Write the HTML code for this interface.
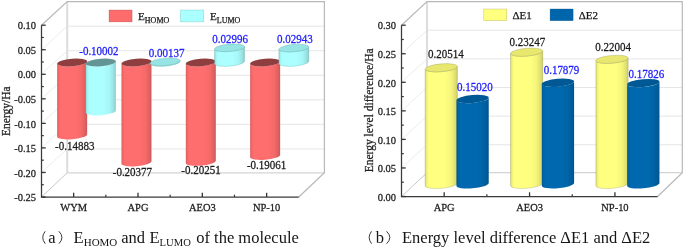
<!DOCTYPE html><html><head><meta charset="utf-8"><style>
html,body{margin:0;padding:0;background:#fff;width:685px;height:248px;overflow:hidden}
svg{display:block;filter:blur(0.4px);font-family:"Liberation Serif", serif}
text{stroke-width:0.25px}
</style></head><body>
<svg width="685" height="248" viewBox="0 0 685 248">
<defs>
<linearGradient id="gr" x1="0" y1="0" x2="1" y2="0"><stop offset="0" stop-color="rgb(214,92,92)"/><stop offset="0.05" stop-color="rgb(242,104,104)"/><stop offset="0.12" stop-color="rgb(255,110,110)"/><stop offset="0.6" stop-color="rgb(255,110,110)"/><stop offset="0.8" stop-color="rgb(245,106,106)"/><stop offset="0.93" stop-color="rgb(224,97,97)"/><stop offset="1" stop-color="rgb(204,88,88)"/></linearGradient>
<linearGradient id="gc" x1="0" y1="0" x2="1" y2="0"><stop offset="0" stop-color="rgb(144,214,214)"/><stop offset="0.05" stop-color="rgb(163,242,242)"/><stop offset="0.12" stop-color="rgb(172,255,255)"/><stop offset="0.6" stop-color="rgb(172,255,255)"/><stop offset="0.8" stop-color="rgb(165,245,245)"/><stop offset="0.93" stop-color="rgb(151,224,224)"/><stop offset="1" stop-color="rgb(138,204,204)"/></linearGradient>
<linearGradient id="gy" x1="0" y1="0" x2="1" y2="0"><stop offset="0" stop-color="rgb(214,214,108)"/><stop offset="0.05" stop-color="rgb(242,242,122)"/><stop offset="0.12" stop-color="rgb(255,255,128)"/><stop offset="0.6" stop-color="rgb(255,255,128)"/><stop offset="0.8" stop-color="rgb(245,245,123)"/><stop offset="0.93" stop-color="rgb(224,224,113)"/><stop offset="1" stop-color="rgb(204,204,102)"/></linearGradient>
<linearGradient id="gb" x1="0" y1="0" x2="1" y2="0"><stop offset="0" stop-color="rgb(0,87,146)"/><stop offset="0.05" stop-color="rgb(0,99,165)"/><stop offset="0.12" stop-color="rgb(0,104,174)"/><stop offset="0.6" stop-color="rgb(0,104,174)"/><stop offset="0.8" stop-color="rgb(0,100,167)"/><stop offset="0.93" stop-color="rgb(0,92,153)"/><stop offset="1" stop-color="rgb(0,83,139)"/></linearGradient>
</defs>
<line x1="67.2" y1="26.16" x2="324.4" y2="26.16" stroke="#e6e6e6" stroke-width="1"/><line x1="41.5" y1="49.74" x2="67.2" y2="26.16" stroke="#ececec" stroke-width="1"/><line x1="67.2" y1="50.71" x2="324.4" y2="50.71" stroke="#e6e6e6" stroke-width="1"/><line x1="41.5" y1="74.29" x2="67.2" y2="50.71" stroke="#ececec" stroke-width="1"/><line x1="67.2" y1="75.27" x2="324.4" y2="75.27" stroke="#e6e6e6" stroke-width="1"/><line x1="41.5" y1="98.83" x2="67.2" y2="75.27" stroke="#ececec" stroke-width="1"/><line x1="67.2" y1="99.83" x2="324.4" y2="99.83" stroke="#e6e6e6" stroke-width="1"/><line x1="41.5" y1="123.37" x2="67.2" y2="99.83" stroke="#ececec" stroke-width="1"/><line x1="67.2" y1="124.39" x2="324.4" y2="124.39" stroke="#e6e6e6" stroke-width="1"/><line x1="41.5" y1="147.91" x2="67.2" y2="124.39" stroke="#ececec" stroke-width="1"/><line x1="67.2" y1="148.94" x2="324.4" y2="148.94" stroke="#e6e6e6" stroke-width="1"/><line x1="41.5" y1="172.46" x2="67.2" y2="148.94" stroke="#ececec" stroke-width="1"/><line x1="67.2" y1="1.6" x2="67.2" y2="172.8" stroke="#dcdcdc" stroke-width="2"/><line x1="67.2" y1="172.8" x2="324.4" y2="172.8" stroke="#d4d4d4" stroke-width="1.2"/><polyline points="41.5,25.2 67.2,1.6 324.4,1.6 324.4,172.8 298.8,197.0" fill="none" stroke="#b8b8b8" stroke-width="1.2"/><line x1="41.5" y1="197.0" x2="67.2" y2="172.8" stroke="#c8c8c8" stroke-width="1"/>
<linearGradient id="gr_721" href="#gr" gradientUnits="userSpaceOnUse" x1="57.17" y1="0" x2="87.16" y2="0"/><path d="M57.17,63.75 L57.17,136.84 A15.05,3.70 -5.0 0 0 87.16,134.38 L87.16,61.28 A15.05,3.70 -5.0 0 1 57.17,63.75 Z" fill="url(#gr_721)"/><ellipse cx="0" cy="0" rx="15.05" ry="3.70" fill="rgb(142,62,62)" transform="translate(72.16,62.51) rotate(-5.0)"/>
<linearGradient id="gc_1008" href="#gc" gradientUnits="userSpaceOnUse" x1="85.87" y1="0" x2="115.86" y2="0"/><path d="M85.87,63.75 L85.87,112.87 A15.05,3.70 -5.0 0 0 115.86,110.41 L115.86,61.28 A15.05,3.70 -5.0 0 1 85.87,63.75 Z" fill="url(#gc_1008)"/><ellipse cx="0" cy="0" rx="15.05" ry="3.70" fill="rgb(98,150,150)" transform="translate(100.86,62.51) rotate(-5.0)"/>
<linearGradient id="gr_1364" href="#gr" gradientUnits="userSpaceOnUse" x1="121.49" y1="0" x2="151.48" y2="0"/><path d="M121.49,63.75 L121.49,163.83 A15.05,3.70 -5.0 0 0 151.48,161.36 L151.48,61.28 A15.05,3.70 -5.0 0 1 121.49,63.75 Z" fill="url(#gr_1364)"/><ellipse cx="0" cy="0" rx="15.05" ry="3.70" fill="rgb(142,62,62)" transform="translate(136.49,62.51) rotate(-5.0)"/>
<linearGradient id="gc_1651" href="#gc" gradientUnits="userSpaceOnUse" x1="150.19" y1="0" x2="180.18" y2="0"/><path d="M150.19,63.07 L150.19,63.75 A15.05,3.70 -5.0 0 0 180.18,61.28 L180.18,60.61 A15.05,3.70 -5.0 0 1 150.19,63.07 Z" fill="url(#gc_1651)" stroke="rgba(60,140,140,0.45)" stroke-width="0.5"/><ellipse cx="0" cy="0" rx="15.05" ry="3.70" fill="rgb(150,228,228)" stroke="rgba(60,140,140,0.45)" stroke-width="0.5" transform="translate(165.19,61.84) rotate(-5.0)"/>
<linearGradient id="gr_2008" href="#gr" gradientUnits="userSpaceOnUse" x1="185.82" y1="0" x2="215.81" y2="0"/><path d="M185.82,63.75 L185.82,163.21 A15.05,3.70 -5.0 0 0 215.81,160.74 L215.81,61.28 A15.05,3.70 -5.0 0 1 185.82,63.75 Z" fill="url(#gr_2008)"/><ellipse cx="0" cy="0" rx="15.05" ry="3.70" fill="rgb(142,62,62)" transform="translate(200.81,62.51) rotate(-5.0)"/>
<linearGradient id="gc_2295" href="#gc" gradientUnits="userSpaceOnUse" x1="214.52" y1="0" x2="244.51" y2="0"/><path d="M214.52,49.03 L214.52,63.75 A15.05,3.70 -5.0 0 0 244.51,61.28 L244.51,46.57 A15.05,3.70 -5.0 0 1 214.52,49.03 Z" fill="url(#gc_2295)" stroke="rgba(60,140,140,0.45)" stroke-width="0.5"/><ellipse cx="0" cy="0" rx="15.05" ry="3.70" fill="rgb(150,228,228)" stroke="rgba(60,140,140,0.45)" stroke-width="0.5" transform="translate(229.51,47.80) rotate(-5.0)"/>
<linearGradient id="gr_2651" href="#gr" gradientUnits="userSpaceOnUse" x1="250.14" y1="0" x2="280.13" y2="0"/><path d="M250.14,63.75 L250.14,157.36 A15.05,3.70 -5.0 0 0 280.13,154.90 L280.13,61.28 A15.05,3.70 -5.0 0 1 250.14,63.75 Z" fill="url(#gr_2651)"/><ellipse cx="0" cy="0" rx="15.05" ry="3.70" fill="rgb(142,62,62)" transform="translate(265.14,62.51) rotate(-5.0)"/>
<linearGradient id="gc_2938" href="#gc" gradientUnits="userSpaceOnUse" x1="278.84" y1="0" x2="308.83" y2="0"/><path d="M278.84,49.29 L278.84,63.75 A15.05,3.70 -5.0 0 0 308.83,61.28 L308.83,46.83 A15.05,3.70 -5.0 0 1 278.84,49.29 Z" fill="url(#gc_2938)" stroke="rgba(60,140,140,0.45)" stroke-width="0.5"/><ellipse cx="0" cy="0" rx="15.05" ry="3.70" fill="rgb(150,228,228)" stroke="rgba(60,140,140,0.45)" stroke-width="0.5" transform="translate(293.84,48.06) rotate(-5.0)"/>
<polyline points="41.5,25.2 41.5,197.0 298.8,197.0" fill="none" stroke="#3a3a3a" stroke-width="1.25"/><line x1="41.5" y1="25.20" x2="45.7" y2="25.20" stroke="#333" stroke-width="1.3"/><line x1="41.5" y1="49.74" x2="45.7" y2="49.74" stroke="#333" stroke-width="1.3"/><line x1="41.5" y1="74.29" x2="45.7" y2="74.29" stroke="#333" stroke-width="1.3"/><line x1="41.5" y1="98.83" x2="45.7" y2="98.83" stroke="#333" stroke-width="1.3"/><line x1="41.5" y1="123.37" x2="45.7" y2="123.37" stroke="#333" stroke-width="1.3"/><line x1="41.5" y1="147.91" x2="45.7" y2="147.91" stroke="#333" stroke-width="1.3"/><line x1="41.5" y1="172.46" x2="45.7" y2="172.46" stroke="#333" stroke-width="1.3"/><line x1="41.5" y1="197.00" x2="45.7" y2="197.00" stroke="#333" stroke-width="1.3"/><line x1="41.5" y1="37.47" x2="43.8" y2="37.47" stroke="#333" stroke-width="1.2"/><line x1="41.5" y1="62.01" x2="43.8" y2="62.01" stroke="#333" stroke-width="1.2"/><line x1="41.5" y1="86.56" x2="43.8" y2="86.56" stroke="#333" stroke-width="1.2"/><line x1="41.5" y1="111.10" x2="43.8" y2="111.10" stroke="#333" stroke-width="1.2"/><line x1="41.5" y1="135.64" x2="43.8" y2="135.64" stroke="#333" stroke-width="1.2"/><line x1="41.5" y1="160.19" x2="43.8" y2="160.19" stroke="#333" stroke-width="1.2"/><line x1="41.5" y1="184.73" x2="43.8" y2="184.73" stroke="#333" stroke-width="1.2"/><line x1="73.66" y1="197.0" x2="73.66" y2="192.8" stroke="#333" stroke-width="1.3"/><line x1="137.99" y1="197.0" x2="137.99" y2="192.8" stroke="#333" stroke-width="1.3"/><line x1="202.31" y1="197.0" x2="202.31" y2="192.8" stroke="#333" stroke-width="1.3"/><line x1="266.64" y1="197.0" x2="266.64" y2="192.8" stroke="#333" stroke-width="1.3"/><line x1="105.83" y1="197.0" x2="105.83" y2="194.7" stroke="#333" stroke-width="1.2"/><line x1="170.15" y1="197.0" x2="170.15" y2="194.7" stroke="#333" stroke-width="1.2"/><line x1="234.48" y1="197.0" x2="234.48" y2="194.7" stroke="#333" stroke-width="1.2"/>
<text transform="translate(36.00,29.40) scale(1,1.07)" font-size="10.5" text-anchor="end" fill="#222" stroke="#222">0.10</text>
<text transform="translate(36.00,53.94) scale(1,1.07)" font-size="10.5" text-anchor="end" fill="#222" stroke="#222">0.05</text>
<text transform="translate(36.00,78.49) scale(1,1.07)" font-size="10.5" text-anchor="end" fill="#222" stroke="#222">0.00</text>
<text transform="translate(36.00,103.03) scale(1,1.07)" font-size="10.5" text-anchor="end" fill="#222" stroke="#222">-0.05</text>
<text transform="translate(36.00,127.57) scale(1,1.07)" font-size="10.5" text-anchor="end" fill="#222" stroke="#222">-0.10</text>
<text transform="translate(36.00,152.11) scale(1,1.07)" font-size="10.5" text-anchor="end" fill="#222" stroke="#222">-0.15</text>
<text transform="translate(36.00,176.66) scale(1,1.07)" font-size="10.5" text-anchor="end" fill="#222" stroke="#222">-0.20</text>
<text transform="translate(36.00,201.20) scale(1,1.07)" font-size="10.5" text-anchor="end" fill="#222" stroke="#222">-0.25</text>
<text transform="translate(10,111.2) rotate(-90) scale(1,1.1)" font-size="11.5" text-anchor="middle" fill="#222" stroke="#222">Energy/Ha</text>
<text transform="translate(73.66,210.60) scale(1,1.07)" font-size="10.5" text-anchor="middle" fill="#222" stroke="#222">WYM</text>
<text transform="translate(137.99,210.60) scale(1,1.07)" font-size="10.5" text-anchor="middle" fill="#222" stroke="#222">APG</text>
<text transform="translate(202.31,210.60) scale(1,1.07)" font-size="10.5" text-anchor="middle" fill="#222" stroke="#222">AEO3</text>
<text transform="translate(266.64,210.60) scale(1,1.07)" font-size="10.5" text-anchor="middle" fill="#222" stroke="#222">NP-10</text>
<text transform="translate(74.70,149.70) scale(1,1.07)" font-size="11" text-anchor="middle" fill="#1a1a1a" stroke="#1a1a1a">-0.14883</text>
<text transform="translate(132.40,176.05) scale(1,1.07)" font-size="11" text-anchor="middle" fill="#1a1a1a" stroke="#1a1a1a">-0.20377</text>
<text transform="translate(201.00,174.35) scale(1,1.07)" font-size="11" text-anchor="middle" fill="#1a1a1a" stroke="#1a1a1a">-0.20251</text>
<text transform="translate(266.55,168.75) scale(1,1.07)" font-size="11" text-anchor="middle" fill="#1a1a1a" stroke="#1a1a1a">-0.19061</text>
<text transform="translate(98.90,54.65) scale(1,1.07)" font-size="11" text-anchor="middle" fill="#2020ff" stroke="#2020ff">-0.10002</text>
<text transform="translate(166.60,57.05) scale(1,1.07)" font-size="11" text-anchor="middle" fill="#2020ff" stroke="#2020ff">0.00137</text>
<text transform="translate(230.15,43.45) scale(1,1.07)" font-size="11" text-anchor="middle" fill="#2020ff" stroke="#2020ff">0.02996</text>
<text transform="translate(294.80,43.30) scale(1,1.07)" font-size="11" text-anchor="middle" fill="#2020ff" stroke="#2020ff">0.02943</text>
<rect x="109" y="10" width="23.1" height="11.9" fill="rgb(253,108,108)" stroke="rgba(150,60,60,0.5)" stroke-width="0.5"/>
<text x="138" y="19.6" font-size="11.2" fill="#1a1a1a" stroke="#1a1a1a">E<tspan font-size="8" dy="3">HOMO</tspan></text>
<rect x="180.3" y="10" width="23.5" height="11.9" fill="rgb(170,255,255)" stroke="rgba(80,160,160,0.5)" stroke-width="0.5"/>
<text x="210" y="19.6" font-size="11.2" fill="#1a1a1a" stroke="#1a1a1a">E<tspan font-size="8" dy="3">LUMO</tspan></text>
<line x1="427.0" y1="30.23" x2="682.3" y2="30.23" stroke="#e6e6e6" stroke-width="1"/><line x1="401.5" y1="53.75" x2="427.0" y2="30.23" stroke="#ececec" stroke-width="1"/><line x1="427.0" y1="58.87" x2="682.3" y2="58.87" stroke="#e6e6e6" stroke-width="1"/><line x1="401.5" y1="82.30" x2="427.0" y2="58.87" stroke="#ececec" stroke-width="1"/><line x1="427.0" y1="87.50" x2="682.3" y2="87.50" stroke="#e6e6e6" stroke-width="1"/><line x1="401.5" y1="110.85" x2="427.0" y2="87.50" stroke="#ececec" stroke-width="1"/><line x1="427.0" y1="116.13" x2="682.3" y2="116.13" stroke="#e6e6e6" stroke-width="1"/><line x1="401.5" y1="139.40" x2="427.0" y2="116.13" stroke="#ececec" stroke-width="1"/><line x1="427.0" y1="144.77" x2="682.3" y2="144.77" stroke="#e6e6e6" stroke-width="1"/><line x1="401.5" y1="167.95" x2="427.0" y2="144.77" stroke="#ececec" stroke-width="1"/><line x1="427.0" y1="1.6" x2="427.0" y2="172.7" stroke="#dcdcdc" stroke-width="2"/><line x1="427.0" y1="172.7" x2="682.3" y2="172.7" stroke="#d4d4d4" stroke-width="1.2"/><polyline points="401.5,25.2 427.0,1.6 682.3,1.6 682.3,172.7 657.6,196.5" fill="none" stroke="#b8b8b8" stroke-width="1.2"/><line x1="401.5" y1="196.5" x2="427.0" y2="172.7" stroke="#c8c8c8" stroke-width="1"/>
<linearGradient id="gy_4412" href="#gy" gradientUnits="userSpaceOnUse" x1="425.14" y1="0" x2="457.43" y2="0"/><path d="M425.14,69.09 L425.14,185.78 A16.20,3.90 -5.0 0 0 457.43,183.12 L457.43,66.43 A16.20,3.90 -5.0 0 1 425.14,69.09 Z" fill="url(#gy_4412)" stroke="rgba(110,110,60,0.45)" stroke-width="0.5"/><ellipse cx="0" cy="0" rx="16.20" ry="3.90" fill="rgb(232,232,112)" stroke="rgba(110,110,60,0.45)" stroke-width="0.5" transform="translate(441.28,67.76) rotate(-5.0)"/>
<linearGradient id="gb_4725" href="#gb" gradientUnits="userSpaceOnUse" x1="456.44" y1="0" x2="488.73" y2="0"/><path d="M456.44,100.34 L456.44,185.78 A16.20,3.90 -5.0 0 0 488.73,183.12 L488.73,97.68 A16.20,3.90 -5.0 0 1 456.44,100.34 Z" fill="url(#gb_4725)"/><ellipse cx="0" cy="0" rx="16.20" ry="3.90" fill="rgb(0,88,148)" transform="translate(472.58,99.01) rotate(-5.0)"/>
<linearGradient id="gy_5266" href="#gy" gradientUnits="userSpaceOnUse" x1="510.51" y1="0" x2="542.79" y2="0"/><path d="M510.51,53.54 L510.51,185.78 A16.20,3.90 -5.0 0 0 542.79,183.12 L542.79,50.88 A16.20,3.90 -5.0 0 1 510.51,53.54 Z" fill="url(#gy_5266)" stroke="rgba(110,110,60,0.45)" stroke-width="0.5"/><ellipse cx="0" cy="0" rx="16.20" ry="3.90" fill="rgb(232,232,112)" stroke="rgba(110,110,60,0.45)" stroke-width="0.5" transform="translate(526.65,52.21) rotate(-5.0)"/>
<linearGradient id="gb_5579" href="#gb" gradientUnits="userSpaceOnUse" x1="541.81" y1="0" x2="574.09" y2="0"/><path d="M541.81,84.08 L541.81,185.78 A16.20,3.90 -5.0 0 0 574.09,183.12 L574.09,81.42 A16.20,3.90 -5.0 0 1 541.81,84.08 Z" fill="url(#gb_5579)"/><ellipse cx="0" cy="0" rx="16.20" ry="3.90" fill="rgb(0,88,148)" transform="translate(557.95,82.75) rotate(-5.0)"/>
<linearGradient id="gy_6120" href="#gy" gradientUnits="userSpaceOnUse" x1="595.87" y1="0" x2="628.16" y2="0"/><path d="M595.87,60.61 L595.87,185.78 A16.20,3.90 -5.0 0 0 628.16,183.12 L628.16,57.95 A16.20,3.90 -5.0 0 1 595.87,60.61 Z" fill="url(#gy_6120)" stroke="rgba(110,110,60,0.45)" stroke-width="0.5"/><ellipse cx="0" cy="0" rx="16.20" ry="3.90" fill="rgb(232,232,112)" stroke="rgba(110,110,60,0.45)" stroke-width="0.5" transform="translate(612.02,59.28) rotate(-5.0)"/>
<linearGradient id="gb_6433" href="#gb" gradientUnits="userSpaceOnUse" x1="627.17" y1="0" x2="659.46" y2="0"/><path d="M627.17,84.38 L627.17,185.78 A16.20,3.90 -5.0 0 0 659.46,183.12 L659.46,81.72 A16.20,3.90 -5.0 0 1 627.17,84.38 Z" fill="url(#gb_6433)"/><ellipse cx="0" cy="0" rx="16.20" ry="3.90" fill="rgb(0,88,148)" transform="translate(643.32,83.05) rotate(-5.0)"/>
<polyline points="401.5,25.2 401.5,196.5 657.6,196.5" fill="none" stroke="#3a3a3a" stroke-width="1.25"/><line x1="401.5" y1="25.20" x2="405.7" y2="25.20" stroke="#333" stroke-width="1.3"/><line x1="401.5" y1="53.75" x2="405.7" y2="53.75" stroke="#333" stroke-width="1.3"/><line x1="401.5" y1="82.30" x2="405.7" y2="82.30" stroke="#333" stroke-width="1.3"/><line x1="401.5" y1="110.85" x2="405.7" y2="110.85" stroke="#333" stroke-width="1.3"/><line x1="401.5" y1="139.40" x2="405.7" y2="139.40" stroke="#333" stroke-width="1.3"/><line x1="401.5" y1="167.95" x2="405.7" y2="167.95" stroke="#333" stroke-width="1.3"/><line x1="401.5" y1="196.50" x2="405.7" y2="196.50" stroke="#333" stroke-width="1.3"/><line x1="401.5" y1="39.47" x2="403.8" y2="39.47" stroke="#333" stroke-width="1.2"/><line x1="401.5" y1="68.02" x2="403.8" y2="68.02" stroke="#333" stroke-width="1.2"/><line x1="401.5" y1="96.57" x2="403.8" y2="96.57" stroke="#333" stroke-width="1.2"/><line x1="401.5" y1="125.12" x2="403.8" y2="125.12" stroke="#333" stroke-width="1.2"/><line x1="401.5" y1="153.67" x2="403.8" y2="153.67" stroke="#333" stroke-width="1.2"/><line x1="401.5" y1="182.22" x2="403.8" y2="182.22" stroke="#333" stroke-width="1.2"/><line x1="444.18" y1="196.5" x2="444.18" y2="192.3" stroke="#333" stroke-width="1.3"/><line x1="529.55" y1="196.5" x2="529.55" y2="192.3" stroke="#333" stroke-width="1.3"/><line x1="614.92" y1="196.5" x2="614.92" y2="192.3" stroke="#333" stroke-width="1.3"/><line x1="486.87" y1="196.5" x2="486.87" y2="194.2" stroke="#333" stroke-width="1.2"/><line x1="572.23" y1="196.5" x2="572.23" y2="194.2" stroke="#333" stroke-width="1.2"/>
<text transform="translate(396.00,29.40) scale(1,1.07)" font-size="10.5" text-anchor="end" fill="#222" stroke="#222">0.30</text>
<text transform="translate(396.00,57.95) scale(1,1.07)" font-size="10.5" text-anchor="end" fill="#222" stroke="#222">0.25</text>
<text transform="translate(396.00,86.50) scale(1,1.07)" font-size="10.5" text-anchor="end" fill="#222" stroke="#222">0.20</text>
<text transform="translate(396.00,115.05) scale(1,1.07)" font-size="10.5" text-anchor="end" fill="#222" stroke="#222">0.15</text>
<text transform="translate(396.00,143.60) scale(1,1.07)" font-size="10.5" text-anchor="end" fill="#222" stroke="#222">0.10</text>
<text transform="translate(396.00,172.15) scale(1,1.07)" font-size="10.5" text-anchor="end" fill="#222" stroke="#222">0.05</text>
<text transform="translate(396.00,200.70) scale(1,1.07)" font-size="10.5" text-anchor="end" fill="#222" stroke="#222">0.00</text>
<text transform="translate(372.8,110.3) rotate(-90) scale(1,1.1)" font-size="11.5" text-anchor="middle" fill="#222" stroke="#222">Energy level difference/Ha</text>
<text transform="translate(444.18,210.60) scale(1,1.07)" font-size="10.5" text-anchor="middle" fill="#222" stroke="#222">APG</text>
<text transform="translate(529.55,210.60) scale(1,1.07)" font-size="10.5" text-anchor="middle" fill="#222" stroke="#222">AEO3</text>
<text transform="translate(614.92,210.60) scale(1,1.07)" font-size="10.5" text-anchor="middle" fill="#222" stroke="#222">NP-10</text>
<text transform="translate(445.95,57.85) scale(1,1.07)" font-size="11" text-anchor="middle" fill="#1a1a1a" stroke="#1a1a1a">0.20514</text>
<text transform="translate(527.40,45.60) scale(1,1.07)" font-size="11" text-anchor="middle" fill="#1a1a1a" stroke="#1a1a1a">0.23247</text>
<text transform="translate(613.05,50.90) scale(1,1.07)" font-size="11" text-anchor="middle" fill="#1a1a1a" stroke="#1a1a1a">0.22004</text>
<text transform="translate(474.90,91.30) scale(1,1.07)" font-size="11" text-anchor="middle" fill="#2020ff" stroke="#2020ff">0.15020</text>
<text transform="translate(561.50,74.25) scale(1,1.07)" font-size="11" text-anchor="middle" fill="#2020ff" stroke="#2020ff">0.17879</text>
<text transform="translate(646.45,78.40) scale(1,1.07)" font-size="11" text-anchor="middle" fill="#2020ff" stroke="#2020ff">0.17826</text>
<rect x="483.8" y="9" width="23" height="11.7" fill="rgb(255,255,128)" stroke="rgba(150,150,80,0.6)" stroke-width="0.5"/>
<text x="512.5" y="18.7" font-size="11" fill="#1a1a1a" stroke="#1a1a1a">ΔE1</text>
<rect x="550.1" y="9" width="23" height="11.7" fill="rgb(0,102,172)" stroke="rgba(0,70,120,0.6)" stroke-width="0.5"/>
<text x="578.8" y="18.7" font-size="11" fill="#1a1a1a" stroke="#1a1a1a">ΔE2</text>
<path d="M45.2,231.3 Q40.3,237.5 45.2,243.7" fill="none" stroke="#222" stroke-width="0.9"/>
<text x="48.20" y="242.60" font-size="16.5" text-anchor="start" fill="#151515">a</text>
<path d="M58.9,231.3 Q65.0,237.5 58.9,243.7" fill="none" stroke="#222" stroke-width="0.9"/>
<text x="73.6" y="242.6" font-size="16.5" fill="#151515">E<tspan font-size="11" dy="3.3">HOMO</tspan></text>
<text x="121.30" y="242.60" font-size="16.5" text-anchor="start" fill="#151515">and</text>
<text x="149.5" y="242.6" font-size="16.5" fill="#151515">E<tspan font-size="10.6" dy="3.3">LUMO</tspan></text>
<text x="196.20" y="242.60" font-size="16.5" text-anchor="start" fill="#151515">of the molecule</text>
<path d="M371.5,231.3 Q366.79999999999995,237.5 371.5,243.7" fill="none" stroke="#222" stroke-width="0.9"/>
<text x="375.80" y="242.60" font-size="16.5" text-anchor="start" fill="#151515">b</text>
<path d="M386.6,231.3 Q393.1,237.5 386.6,243.7" fill="none" stroke="#222" stroke-width="0.9"/>
<text x="402.00" y="242.60" font-size="16.5" text-anchor="start" fill="#151515">Energy level difference ΔE1 and ΔE2</text>
</svg></body></html>
